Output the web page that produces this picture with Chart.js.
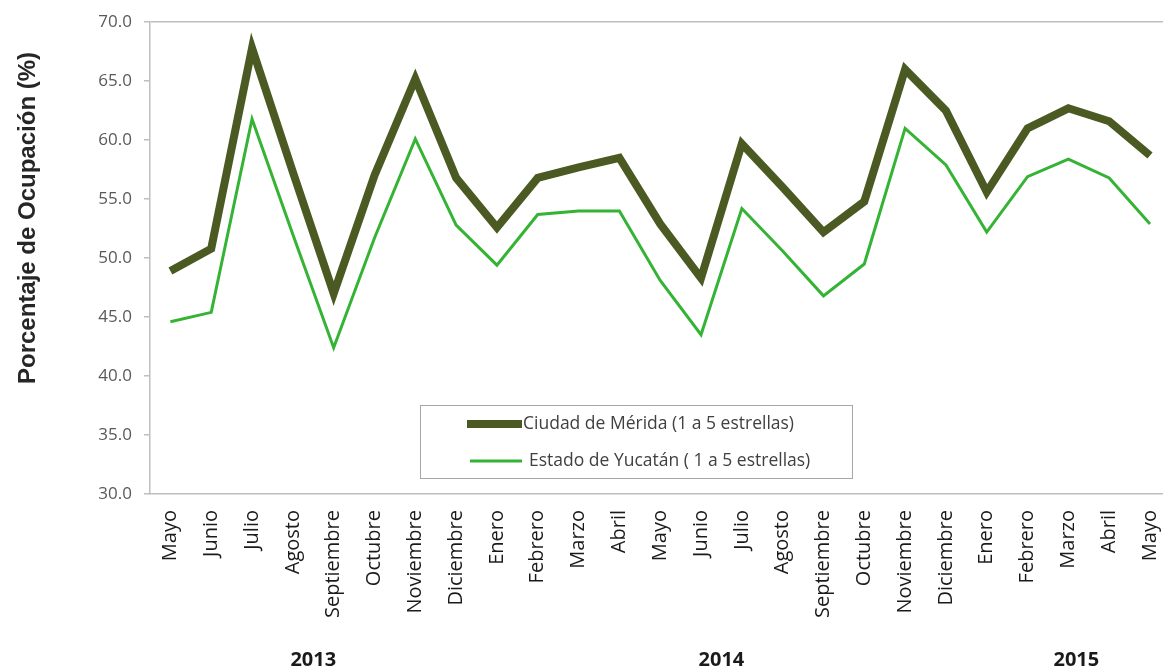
<!DOCTYPE html>
<html>
<head>
<meta charset="utf-8">
<script src="https://cdn.jsdelivr.net/npm/chart.js@4/dist/chart.umd.min.js"></script>
<style>
  html, body { margin: 0; padding: 0; background: #fff; overflow: hidden; }
  #wrap { position: relative; width: 1182px; height: 671px; }
</style>
</head>
<body>
<div id="wrap"><canvas id="c"></canvas></div>
<script>
const months = ['Mayo','Junio','Julio','Agosto','Septiembre','Octubre','Noviembre','Diciembre',
  'Enero','Febrero','Marzo','Abril','Mayo','Junio','Julio','Agosto','Septiembre','Octubre','Noviembre','Diciembre',
  'Enero','Febrero','Marzo','Abril','Mayo'];
const years = ['2013', '2014', '2015'];
const yearOfMonth = [0,0,0,0,0,0,0,0, 1,1,1,1,1,1,1,1,1,1,1,1, 2,2,2,2,2];
const meridaLabel = 'Ciudad de Mérida (1 a 5 estrellas)';
const yucatanLabel = 'Estado de Yucatán ( 1 a 5 estrellas)';
const merida = [48.9, 50.8, 67.8, 57.3, 47.0, 57.0, 65.2, 56.8, 52.6, 56.8, 57.7, 58.5,
  52.9, 48.3, 59.7, 56.0, 52.2, 54.8, 66.0, 62.5, 55.6, 61.0, 62.7, 61.6, 58.7];
const yucatan = [44.6, 45.4, 61.8, 52.0, 42.4, 51.7, 60.1, 52.8, 49.4, 53.7, 54.0, 54.0,
  48.1, 43.5, 54.2, 50.6, 46.8, 49.5, 61.0, 57.9, 52.2, 56.9, 58.4, 56.8, 52.9];
const yTitle = 'Porcentaje de Ocupación (%)';
const yMin = 30, yMax = 70, yStep = 5;

const darkColor = '#4B5A22';
const lightColor = '#34B334';
const axisColor = '#BFBFBF';

const extras = {
  id: 'extras',
  afterDraw(chart) {
    const ctx = chart.ctx;
    const x = chart.scales.x;
    ctx.save();
    // y axis title
    ctx.fillStyle = '#262626';
    ctx.font = 'bold 24px "Liberation Sans", Arial, sans-serif';
    ctx.textAlign = 'center';
    ctx.textBaseline = 'middle';
    ctx.translate(28, 218);
    ctx.rotate(-Math.PI / 2);
    ctx.fillText(yTitle, 0, 0);
    ctx.restore();

    // year labels
    ctx.save();
    ctx.fillStyle = '#1a1a1a';
    ctx.font = 'bold 20px "Open Sans", sans-serif';
    ctx.textAlign = 'center';
    ctx.textBaseline = 'middle';
    years.forEach((yr, yi) => {
      const idx = yearOfMonth.map((v, i) => v === yi ? i : -1).filter(i => i >= 0);
      const cx = (x.getPixelForValue(idx[0]) + x.getPixelForValue(idx[idx.length - 1])) / 2;
      ctx.fillText(yr, cx + (yi === 2 ? 8 : 0), 660);
    });
    ctx.restore();

    // legend box
    ctx.save();
    const bx = 420, by = 405, bw = 432, bh = 73;
    ctx.fillStyle = '#fff';
    ctx.fillRect(bx, by, bw, bh);
    ctx.strokeStyle = '#A6A6A6';
    ctx.lineWidth = 1;
    ctx.strokeRect(bx + 0.5, by + 0.5, bw, bh);
    ctx.font = '17.5px "Open Sans", sans-serif';
    ctx.textBaseline = 'middle';
    ctx.textAlign = 'left';
    const ds = chart.data.datasets;
    const rows = [
      {y: 424, x0: 467, x1: 522, tx: 523},
      {y: 461, x0: 470, x1: 522, tx: 529}
    ];
    ds.forEach((d, i) => {
      const r = rows[i];
      ctx.strokeStyle = d.borderColor;
      ctx.lineWidth = d.borderWidth;
      ctx.lineCap = 'butt';
      ctx.beginPath();
      ctx.moveTo(r.x0, r.y);
      ctx.lineTo(r.x1, r.y);
      ctx.stroke();
      ctx.fillStyle = '#404040';
      ctx.fillText(d.label, r.tx, r.y);
    });
    ctx.restore();
  }
};

new Chart(document.getElementById('c'), {
  type: 'line',
  data: {
    labels: months,
    datasets: [
      { label: meridaLabel, data: merida, borderColor: darkColor, backgroundColor: darkColor,
        borderWidth: 8, pointRadius: 0, tension: 0, borderJoinStyle: 'miter' },
      { label: yucatanLabel, data: yucatan, borderColor: lightColor, backgroundColor: lightColor,
        borderWidth: 3, pointRadius: 0, tension: 0, borderJoinStyle: 'miter' }
    ]
  },
  options: {
    responsive: true,
    maintainAspectRatio: false,
    animation: false,
    layout: { padding: { top: 21, right: 0, bottom: 0, left: 0 } },
    plugins: { legend: { display: false }, tooltip: { enabled: false } },
    scales: {
      x: {
        offset: true,
        grid: { display: false },
        border: { display: true, color: axisColor, width: 1.5 },
        ticks: {
          autoSkip: false, minRotation: 90, maxRotation: 90, padding: 8,
          color: '#1a1a1a', font: { family: '"Open Sans", sans-serif', size: 20 }
        },
        afterFit(s) { s.height = 177; }
      },
      y: {
        min: yMin, max: yMax,
        grid: {
          color: (c) => (c.tick && c.tick.value === yMax) ? axisColor : 'rgba(0,0,0,0)',
          tickColor: axisColor, tickLength: 6, drawTicks: true, lineWidth: 1.5
        },
        border: { display: true, color: axisColor, width: 1.5 },
        ticks: {
          stepSize: yStep, padding: 12, color: '#595959',
          font: { family: '"Open Sans", sans-serif', size: 17 },
          callback: (v) => Number(v).toFixed(1)
        },
        afterFit(s) { s.width = 150; }
      }
    }
  },
  plugins: [extras]
});
</script>
</body>
</html>
